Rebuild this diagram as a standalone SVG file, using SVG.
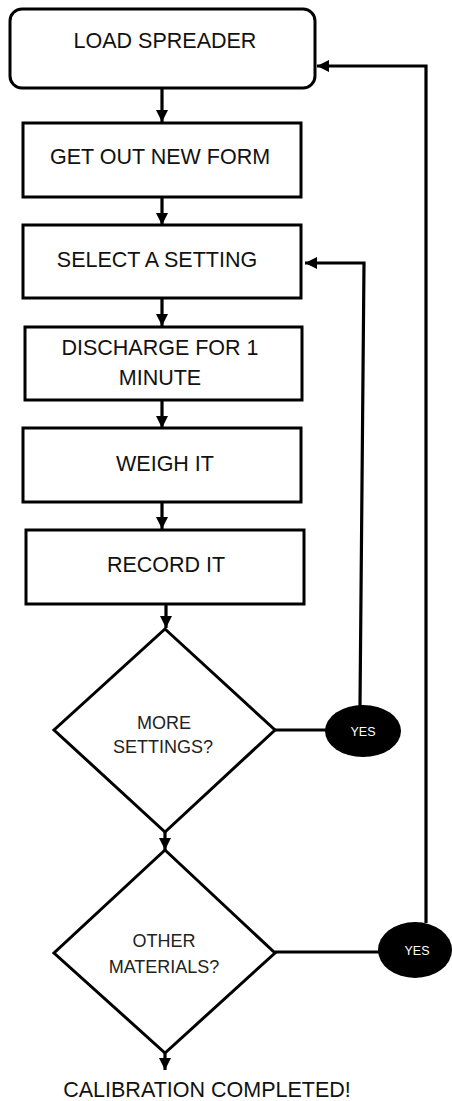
<svg xmlns="http://www.w3.org/2000/svg" width="452" height="1101" viewBox="0 0 452 1101">
<style>
.box{fill:#fff;stroke:#000;stroke-width:3}
.t{font-family:"Liberation Sans",Arial,sans-serif;font-size:21.5px;fill:#111;text-anchor:middle}
.ts{font-family:"Liberation Sans",Arial,sans-serif;font-size:18px;fill:#222;text-anchor:middle}
.ty{font-family:"Liberation Sans",Arial,sans-serif;font-size:12.5px;fill:#fff;text-anchor:middle}
.c{fill:none;stroke:#000;stroke-width:3.2}
</style>
<defs>
<marker id="ah" viewBox="0 0 10 10" refX="10" refY="5" markerWidth="3.8" markerHeight="3.8" orient="auto" markerUnits="strokeWidth">
<path d="M0,0 L10,5 L0,10 Z" fill="#000"/>
</marker>
</defs>
<g id="connectors">
<path class="c" d="M162,88 V122" marker-end="url(#ah)"/>
<path class="c" d="M162,197 V225" marker-end="url(#ah)"/>
<path class="c" d="M162,298 V326" marker-end="url(#ah)"/>
<path class="c" d="M162,400 V428" marker-end="url(#ah)"/>
<path class="c" d="M162,502 V529" marker-end="url(#ah)"/>
<path class="c" d="M166,604 V628" marker-end="url(#ah)"/>
<path class="c" d="M165,832 V850" marker-end="url(#ah)"/>
<path class="c" d="M165,1053 V1070" marker-end="url(#ah)"/>
<path class="c" d="M275,730 H326"/>
<path class="c" d="M360,706 L364,263 H305" marker-end="url(#ah)"/>
<path class="c" d="M275,952 H380"/>
<path class="c" d="M426,923 V66 H317" marker-end="url(#ah)"/>
</g>
<g id="n1"><rect class="box" x="10" y="9" width="305" height="79" rx="12"/><text class="t" x="165" y="48">LOAD SPREADER</text></g>
<g id="n2"><rect class="box" x="23" y="123" width="278" height="74"/><text class="t" x="160" y="164">GET OUT NEW FORM</text></g>
<g id="n3"><rect class="box" x="23" y="225" width="278" height="73"/><text class="t" x="157" y="267">SELECT A SETTING</text></g>
<g id="n4"><rect class="box" x="25" y="327" width="277" height="73"/><text class="t" x="160" y="355">DISCHARGE FOR 1</text><text class="t" x="160" y="385">MINUTE</text></g>
<g id="n5"><rect class="box" x="23" y="428" width="278" height="74"/><text class="t" x="165" y="471">WEIGH IT</text></g>
<g id="n6"><rect class="box" x="26" y="530" width="278" height="74"/><text class="t" x="166" y="572">RECORD IT</text></g>
<g id="d1"><path class="box" d="M165,629 L275,730 L165,832 L54,730 Z"/><text class="ts" x="164" y="729">MORE</text><text class="ts" x="163" y="753">SETTINGS?</text></g>
<g id="y1"><ellipse cx="363" cy="731" rx="38" ry="26" fill="#000"/><text class="ty" x="363" y="736">YES</text></g>
<g id="d2"><path class="box" d="M165,850 L275,953 L165,1053 L54,953 Z"/><text class="ts" x="164" y="947">OTHER</text><text class="ts" x="164" y="973">MATERIALS?</text></g>
<g id="y2"><ellipse cx="415" cy="950" rx="37" ry="28" fill="#000"/><text class="ty" x="417" y="955">YES</text></g>
<g id="end"><text class="t" x="207" y="1097">CALIBRATION COMPLETED!</text></g>
</svg>
